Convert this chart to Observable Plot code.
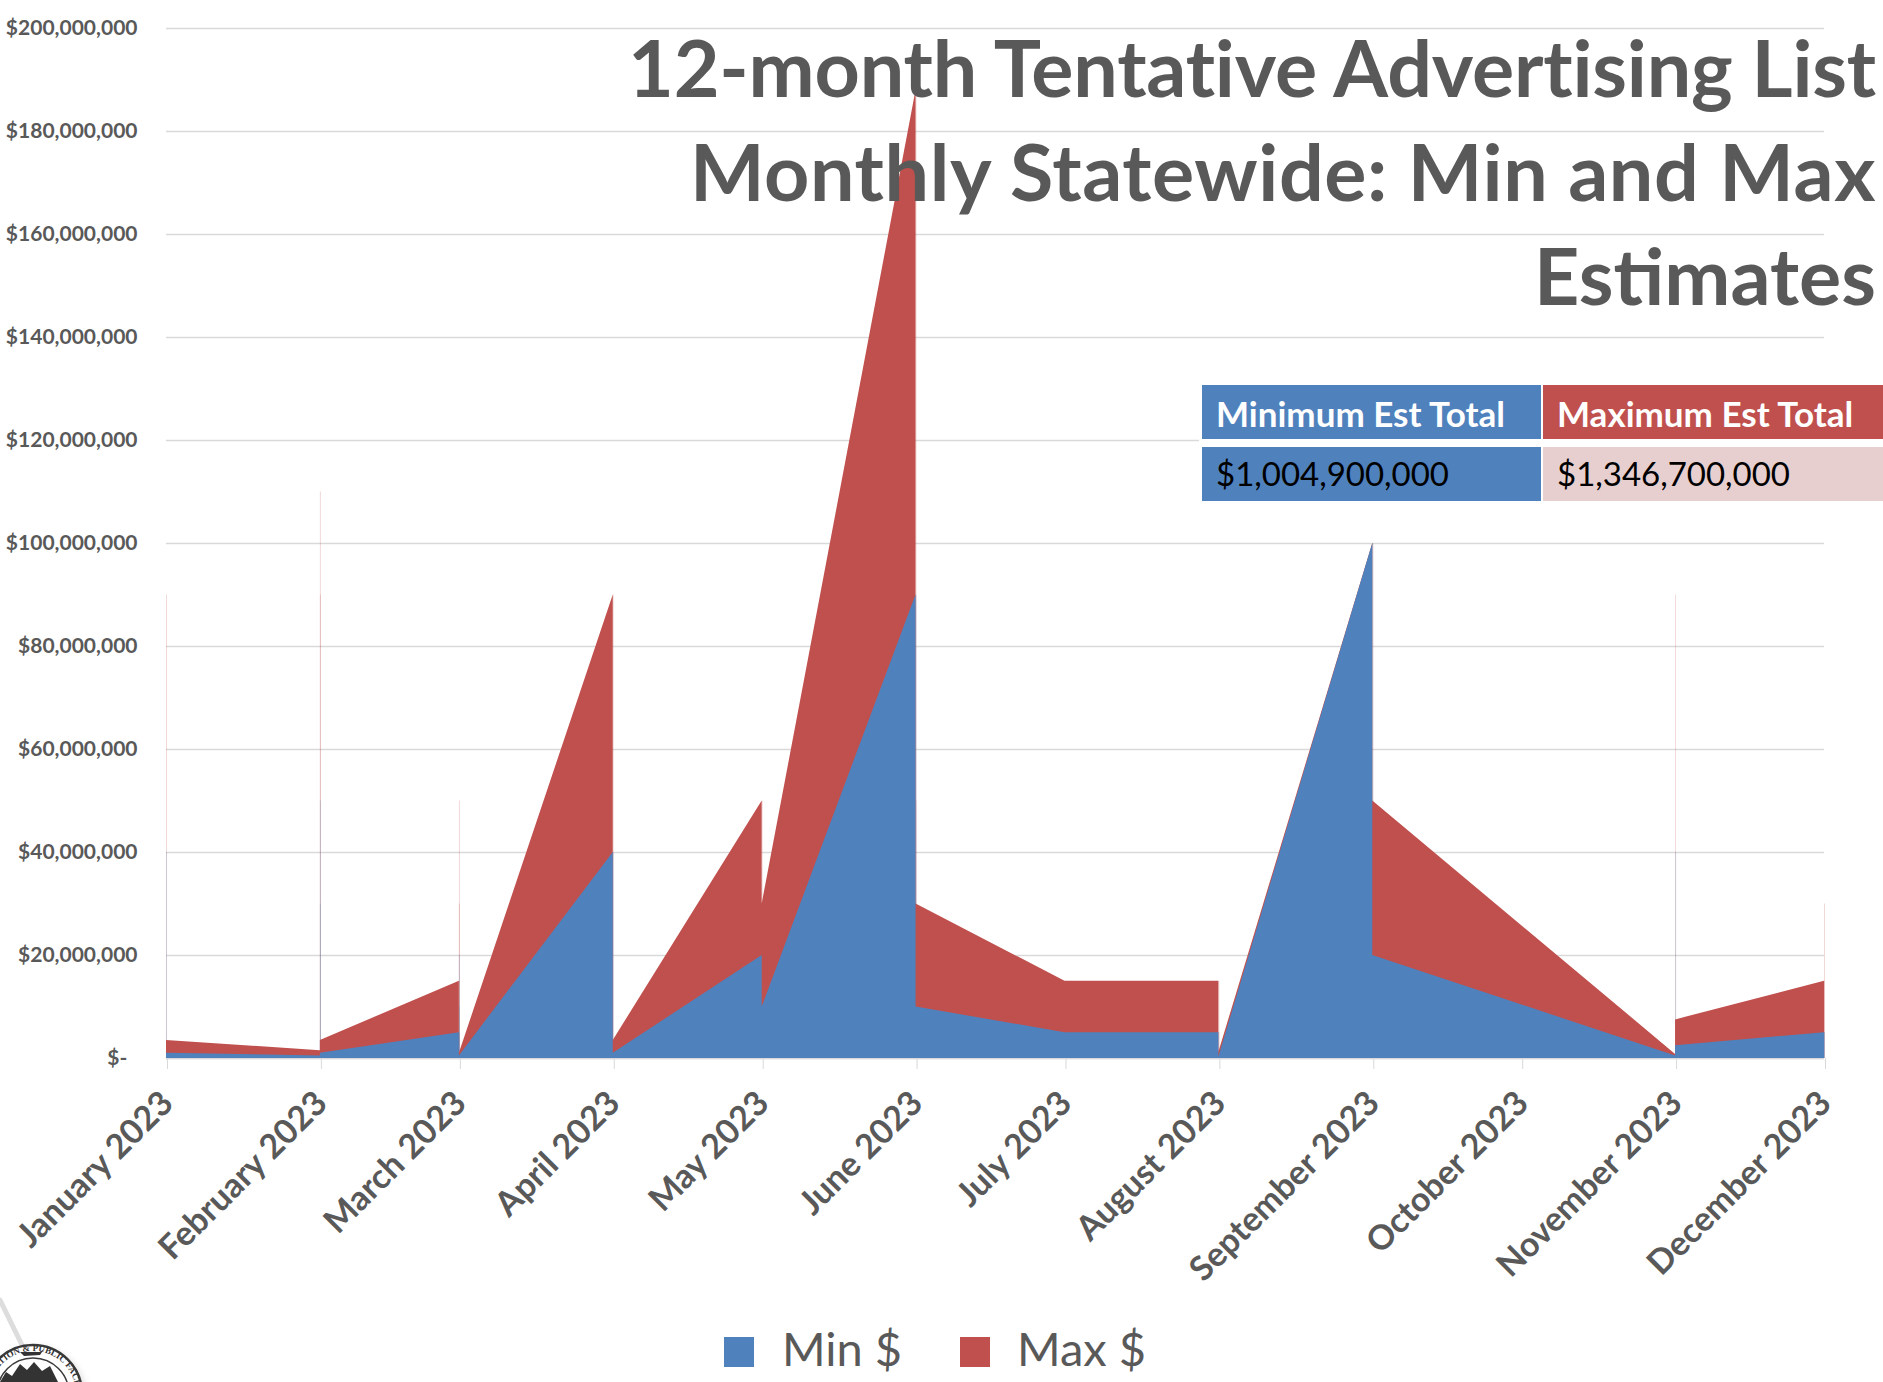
<!DOCTYPE html>
<html>
<head>
<meta charset="utf-8">
<script src="https://cdn.jsdelivr.net/npm/d3@7"></script>
<script src="https://cdn.jsdelivr.net/npm/@observablehq/plot@0.6"></script>
<style>
  html, body { margin: 0; padding: 0; background: #fff; }
  #wrap { position: relative; width: 1883px; height: 1382px; overflow: hidden; font-family: Lato, "Open Sans", sans-serif; }
  #chart { position: absolute; left: 0; top: 0; }
  #title { position: absolute; right: 7px; top: 15px; text-align: right; font-size: 79px; line-height: 104px; font-weight: 700; color: #595959; white-space: nowrap; }
  #title div:nth-child(1) { letter-spacing: -0.2px; }
  #title div:nth-child(2) { letter-spacing: 0.6px; }
  #totals { position: absolute; left: 1199px; top: 382px; width: 684px; height: 122px; background: #fff; }
  .cell { position: absolute; height: 54px; box-sizing: border-box; padding-left: 14px; white-space: nowrap; }
  .hdr { color: #fff; font-weight: 700; font-size: 35px; line-height: 56px; }
  .val { color: #000; font-weight: 400; font-size: 33px; line-height: 52px; }
  #legend { position: absolute; left: 0; top: 1300px; width: 1883px; height: 82px; }
  .sw { position: absolute; top: 37px; width: 30px; height: 30px; }
  .lt { position: absolute; top: 18px; font-size: 47px; line-height: 60px; color: #595959; }
  #seal { position: absolute; left: 0; top: 1280px; }
</style>
</head>
<body>
<div id="wrap">
  <div id="chart"></div>
  <div id="title"></div>
  <div id="totals"></div>
  <div id="legend"></div>
  <svg id="seal" width="140" height="102" viewBox="0 1280 140 102"></svg>
</div>
<script>
// ---- data (values in millions of dollars) ----
const pointDates = [
  "2023-01-01", "2023-01-01",
  "2023-02-01", "2023-02-01", "2023-02-01", "2023-02-01",
  "2023-03-01", "2023-03-01", "2023-03-01", "2023-03-01",
  "2023-04-01", "2023-04-01",
  "2023-05-01", "2023-05-01",
  "2023-06-01", "2023-06-01", "2023-06-01",
  "2023-07-01",
  "2023-08-01", "2023-08-01",
  "2023-09-01", "2023-09-01",
  "2023-11-01", "2023-11-01", "2023-11-01",
  "2023-12-01", "2023-12-01"
];
const minMillions = [
  40, 1,
  0.5, 50, 30, 1,
  5, 20, 10, 0.5,
  40, 1,
  20, 10,
  90, 20, 10,
  5,
  5, 0.3,
  100, 20,
  0.5, 40, 2.5,
  5, 5
];
const maxMillions = [
  90, 3.5,
  1.5, 110, 90, 3.5,
  15, 50, 30, 1,
  90, 3.5,
  50, 30,
  188, 50, 30,
  15,
  15, 1.2,
  100, 50,
  0.8, 90, 7.5,
  15, 30
];
const monthTickDates = [
  "2023-01-01", "2023-02-01", "2023-03-01", "2023-04-01", "2023-05-01", "2023-06-01",
  "2023-07-01", "2023-08-01", "2023-09-01", "2023-10-01", "2023-11-01", "2023-12-01"
];
const monthTickLabels = [
  "January 2023", "February 2023", "March 2023", "April 2023", "May 2023", "June 2023",
  "July 2023", "August 2023", "September 2023", "October 2023", "November 2023", "December 2023"
];
const yTickValues = [0, 20e6, 40e6, 60e6, 80e6, 100e6, 120e6, 140e6, 160e6, 180e6, 200e6];
const seriesNames = ["Min $", "Max $"];
const seriesColors = ["#4f81bd", "#c0504d"];
const titleLines = ["12-month Tentative Advertising List", "Monthly Statewide: Min and Max", "Estimates"];
const totalHeaders = ["Minimum Est Total", "Maximum Est Total"];
const totalValues = ["$1,004,900,000", "$1,346,700,000"];

// ---- build ----
const BLUE = seriesColors[0], RED = seriesColors[1];
const parse = s => new Date(s + "T00:00:00Z");
const data = pointDates.map((d, i) => ({date: parse(d), min: minMillions[i] * 1e6, max: maxMillions[i] * 1e6}));
const monthTicks = monthTickDates.map(parse);
const labelFor = d => monthTickLabels[monthTicks.findIndex(t => +t === +d)];
const fmtY = v => v === 0 ? "$-\u00a0\u00a0" : "$" + d3.format(",")(v);

const chart = Plot.plot({
  width: 1883,
  height: 1300,
  marginLeft: 166,
  marginRight: 59,
  marginTop: 28,
  marginBottom: 242,
  style: {fontFamily: "Lato, 'Open Sans', sans-serif", background: "transparent", overflow: "visible"},
  x: {type: "utc", domain: [monthTicks[0], monthTicks[monthTicks.length - 1]]},
  y: {domain: [0, 200e6]},
  marks: [
    Plot.gridY({ticks: yTickValues, stroke: "#d9d9d9", strokeOpacity: 1, strokeWidth: 1.5}),
    Plot.ruleY([0], {stroke: "#d9d9d9", strokeWidth: 1.5}),
    Plot.ruleX(data, {x: "date", y1: 0, y2: "max", stroke: RED, strokeOpacity: 0.22}),
    Plot.ruleX(data, {x: "date", y1: 0, y2: "min", stroke: BLUE, strokeOpacity: 0.22}),
    Plot.areaY(data, {x: "date", y1: 0, y2: "max", fill: RED}),
    Plot.areaY(data, {x: "date", y1: 0, y2: "min", fill: BLUE}),
    Plot.axisY({ticks: yTickValues, tickSize: 0, tickPadding: 29, tickFormat: fmtY, fontSize: 21, fontWeight: 700, color: "#595959", label: null}),
    Plot.axisX({ticks: monthTicks, tickFormat: labelFor, tickRotate: -45, tickSize: 11, tickPadding: 28, dx: 1,
                fontSize: 34, fontWeight: 700, color: "#595959", stroke: "#d9d9d9", label: null})
  ]
});
document.getElementById("chart").appendChild(chart);

// title
const title = document.getElementById("title");
title.innerHTML = titleLines.map(t => `<div>${t}</div>`).join("");

// totals table
const totals = document.getElementById("totals");
const colX = [3, 344];
const colW = [339, 340];
const cellBg = [[BLUE, RED], [BLUE, "#e7cfcf"]];
totalHeaders.forEach((h, i) => {
  const c = document.createElement("div");
  c.className = "cell hdr";
  c.style.left = colX[i] + "px"; c.style.top = "3px"; c.style.width = colW[i] + "px";
  c.style.background = cellBg[0][i];
  c.textContent = h;
  totals.appendChild(c);
});
totalValues.forEach((v, i) => {
  const c = document.createElement("div");
  c.className = "cell val";
  c.style.left = colX[i] + "px"; c.style.top = "65px"; c.style.width = colW[i] + "px";
  c.style.background = cellBg[1][i];
  c.textContent = v;
  totals.appendChild(c);
});

// legend
const legend = document.getElementById("legend");
const swX = [724, 960], txX = [782, 1017];
seriesNames.forEach((n, i) => {
  const s = document.createElement("div");
  s.className = "sw"; s.style.left = swX[i] + "px"; s.style.background = seriesColors[i];
  legend.appendChild(s);
  const t = document.createElement("div");
  t.className = "lt"; t.style.left = txX[i] + "px"; t.textContent = n;
  legend.appendChild(t);
});

// decorative seal (bottom-left corner)
const seal = d3.select("#seal");
const defs = seal.append("defs");
const g = defs.append("radialGradient").attr("id", "sh");
g.append("stop").attr("offset", "0.7").attr("stop-color", "#888").attr("stop-opacity", 0.6);
g.append("stop").attr("offset", "1").attr("stop-color", "#fff").attr("stop-opacity", 0);
seal.append("line").attr("x1", 0).attr("y1", 1300).attr("x2", 22).attr("y2", 1345).attr("stroke", "#ddd").attr("stroke-width", 5).attr("stroke-linecap", "round");
seal.append("circle").attr("cx", 36).attr("cy", 1397).attr("r", 58).attr("fill", "url(#sh)");
seal.append("circle").attr("cx", 33).attr("cy", 1394).attr("r", 49).attr("fill", "#fff").attr("stroke", "#3a3a3a").attr("stroke-width", 2.5);
seal.append("circle").attr("cx", 33).attr("cy", 1394).attr("r", 36).attr("fill", "#fff").attr("stroke", "#3a3a3a").attr("stroke-width", 1.5);
defs.append("path").attr("id", "arc").attr("d", "M -10 1394 A 43 43 0 0 1 76 1394");
seal.append("text").attr("font-family", "'Liberation Serif', serif").attr("font-size", 9).attr("font-weight", 700).attr("fill", "#333")
  .append("textPath").attr("href", "#arc").attr("startOffset", "2").text("PORTATION & PUBLIC FACILITIES");
seal.append("path").attr("d", "M 0 1382 L 6 1372 L 12 1376 L 20 1364 L 27 1370 L 34 1362 L 42 1371 L 50 1366 L 58 1382 Z").attr("fill", "#333");
seal.append("path").attr("d", "M 20 1352 L 40 1352 L 44 1349 L 40 1355 L 24 1356 Z").attr("fill", "#333");
</script>
</body>
</html>
